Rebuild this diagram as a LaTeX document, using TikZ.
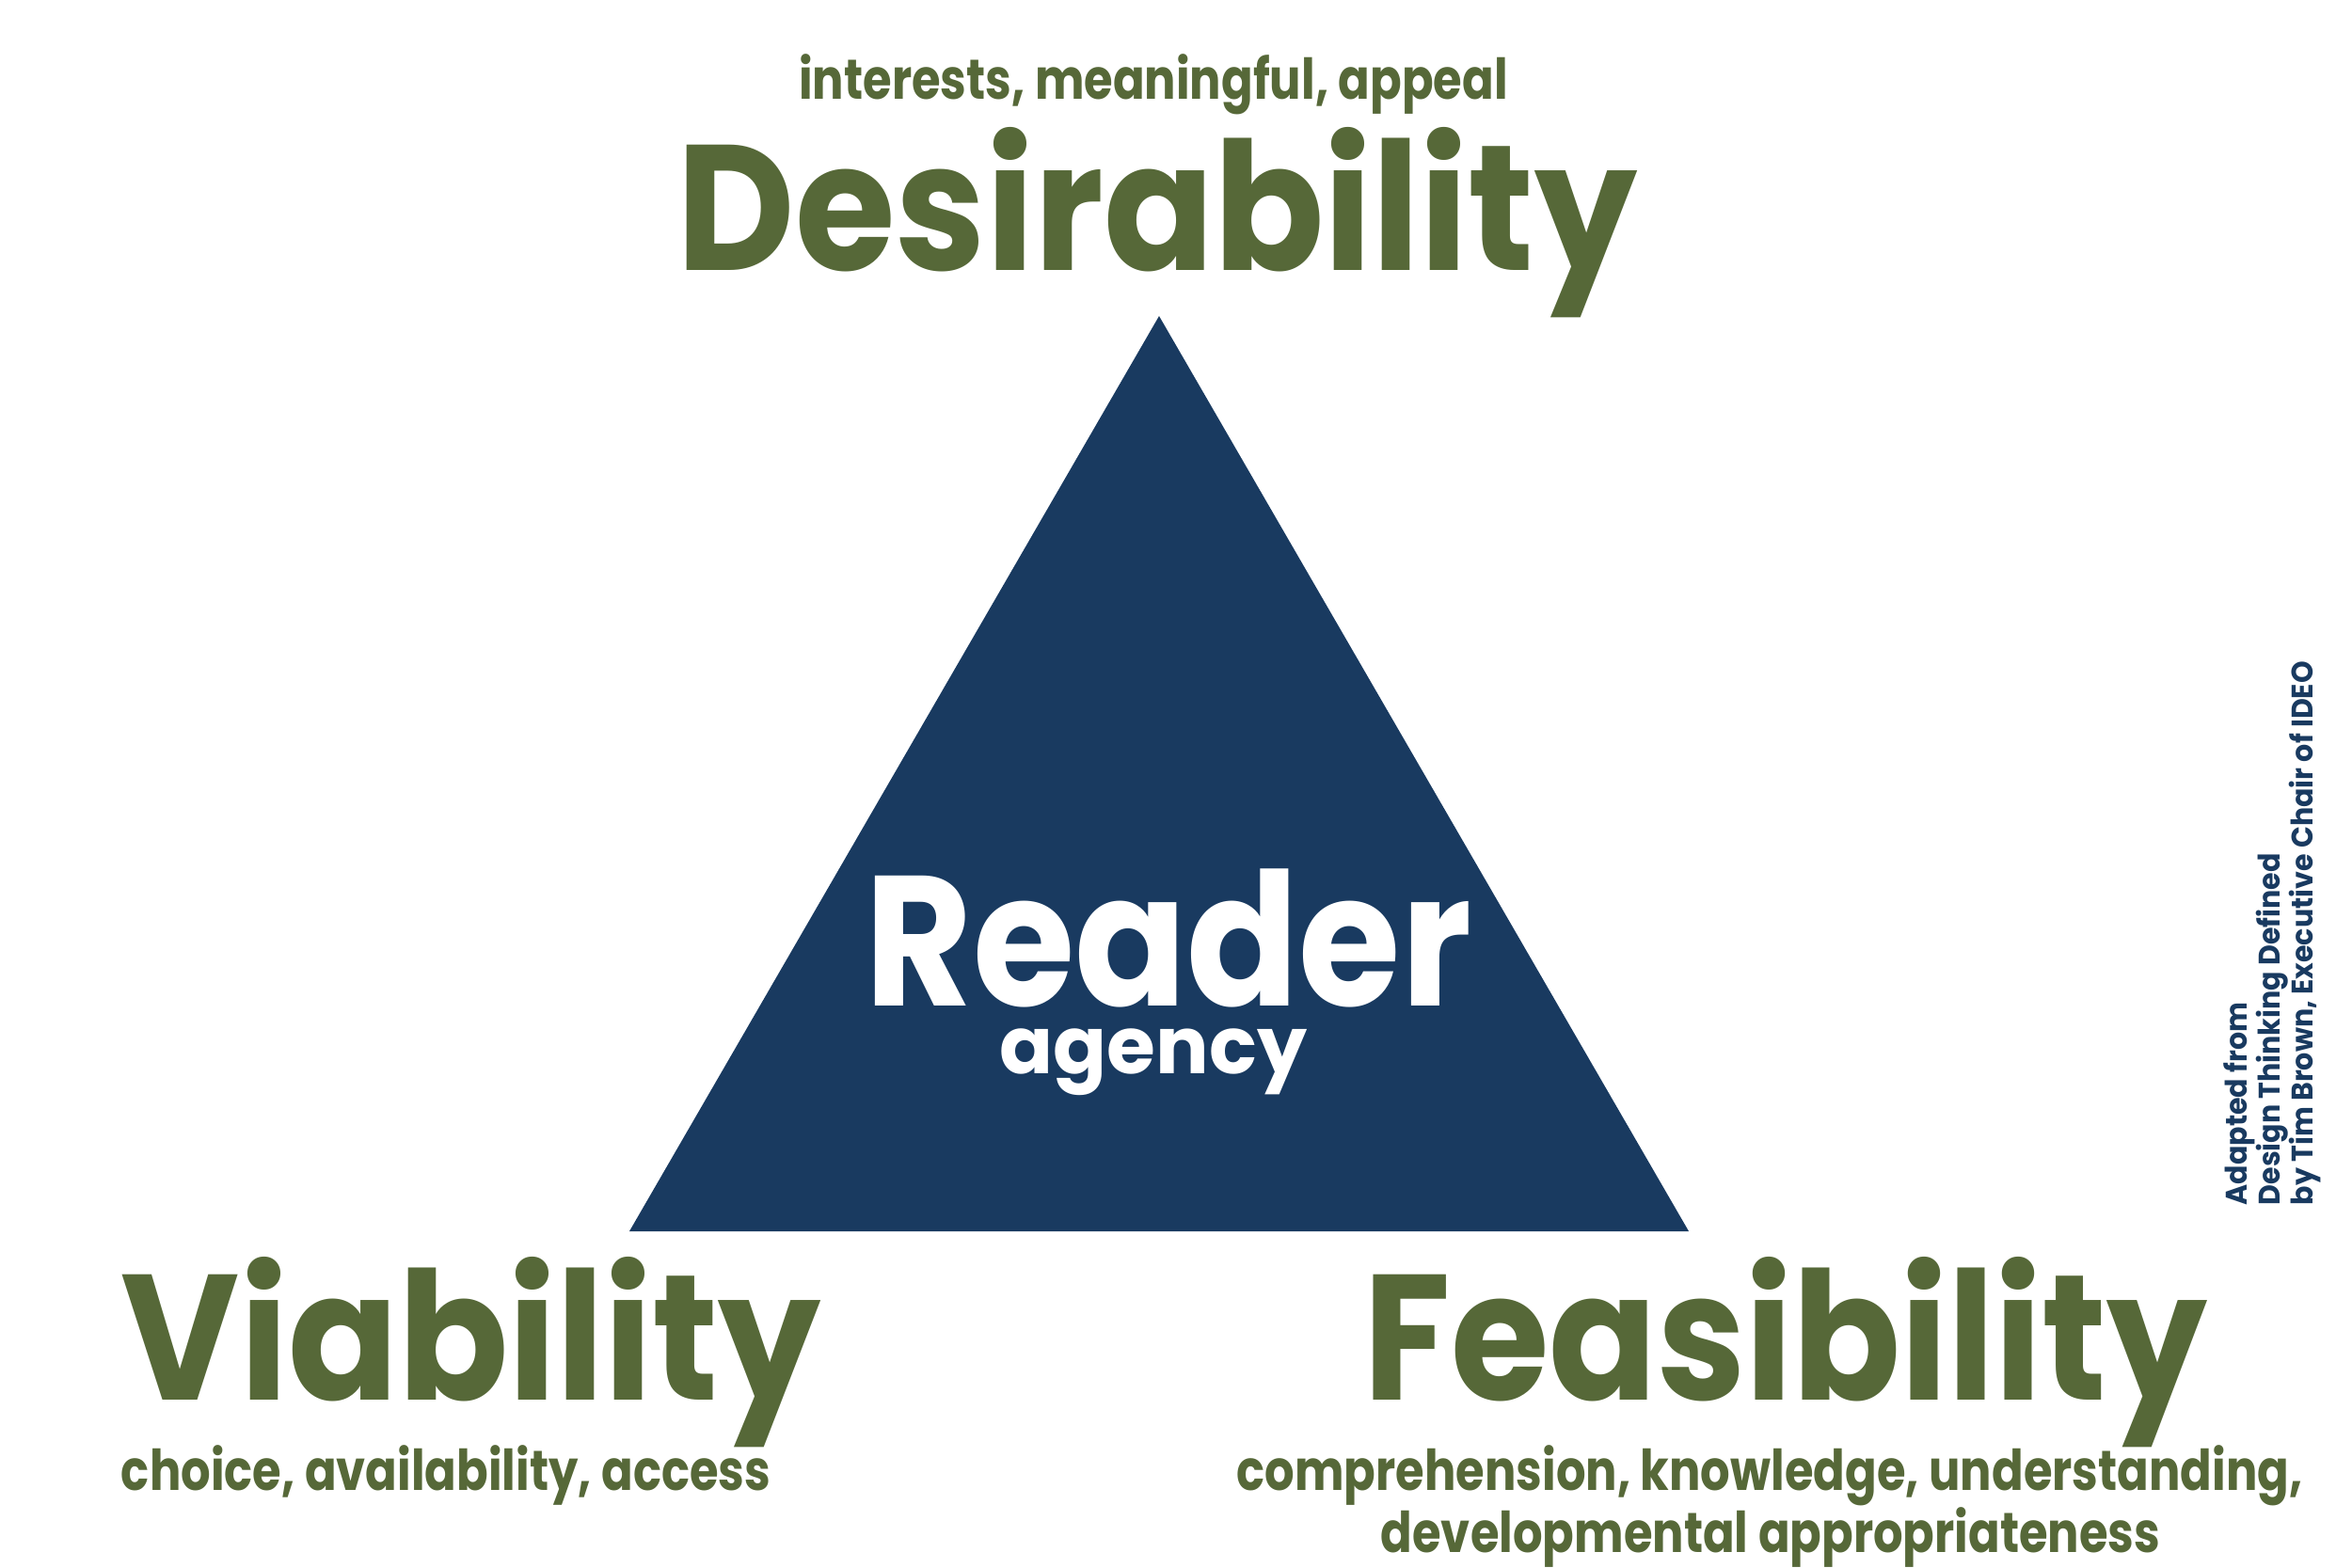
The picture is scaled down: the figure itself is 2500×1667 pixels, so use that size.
\documentclass[tikz,border=0pt]{standalone}
\usepackage{fontspec}
\setmainfont{Poppins}
\definecolor{leafgreen}{RGB}{86,104,56}
\definecolor{inkblue}{RGB}{25,58,96}
\tikzset{
  big/.style={text=leafgreen,font=\fontsize{54}{60}\selectfont\bfseries,inner sep=0pt,anchor=base,xscale=0.91},
  small/.style={text=leafgreen,font=\fontsize{17}{24}\selectfont\bfseries,inner sep=0pt,anchor=base,xscale=0.83},
}
\begin{document}
\begin{tikzpicture}[x=0.01cm,y=-0.01cm]
\useasboundingbox (0,0) rectangle (2500,1667);
\fill[white] (0,0) rectangle (2500,1667);
% triangle
\coordinate (apex) at (1232,336);
\coordinate (left) at (669,1309);
\coordinate (right) at (1795,1309);
\fill[inkblue] (apex) -- (right) -- (left) -- cycle;
\node[big,text=white,font=\fontsize{56}{60}\selectfont\bfseries,xscale=0.98] (reader) at (1242,1069) {Reader};
\node[small,text=white,font=\fontsize{24}{26}\selectfont\bfseries,xscale=1.2] (agency) at (1226,1141) {agency};
% labels
\node[small] (desirenote) at (1226,106) {interests, meaningful, appeal};
\node[big] (desire) at (1230,288) {Desirability};
\node[big] (viable) at (501,1488) {Viability};
\node[small] (viablenote) at (474,1584) {choice, availability, access};
\node[big,xscale=0.98] (feasible) at (1898,1488) {Feasibility};
\node[small] (feasiblenote) at (1881,1584) {comprehension, knowledge, understanding,};
\node[small] (feasiblenote2) at (1882,1650) {developmental appropriateness};
% source
\node[text=inkblue,font=\fontsize{9}{10}\selectfont\bfseries,rotate=90,xscale=0.95,anchor=north west,align=left,inner sep=0pt] (source) at (2363,1282)
  {Adapted from\\Design Thinking Defined\\by Tim Brown, Executive Chair of IDEO};
\end{tikzpicture}
\end{document}
